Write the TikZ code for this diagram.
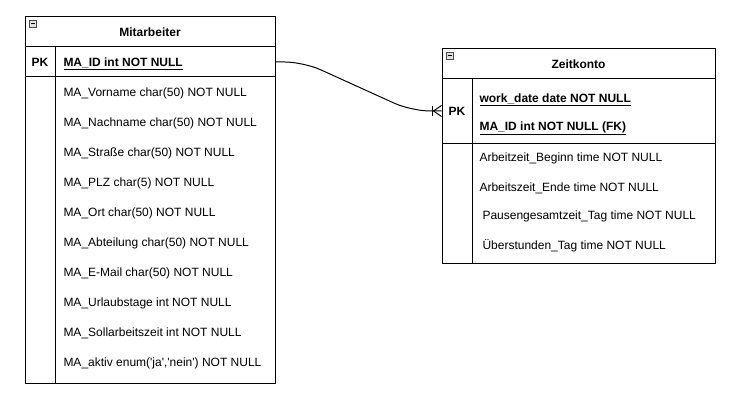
\documentclass[tikz,border=0pt]{standalone}
\usepackage{fontspec}
\setmainfont{Liberation Sans}
\usetikzlibrary{calc}

\tikzset{
  entity/.style={draw, inner sep=0pt},
  field/.style={anchor=west, inner sep=0pt, text height=6.5pt, text depth=0pt,
    font=\fontsize{9}{11}\selectfont},
  keyfield/.style={field, font=\fontsize{9}{11}\selectfont\bfseries},
  title/.style={inner sep=0pt, text height=6.5pt, text depth=0pt,
    font=\fontsize{9}{11}\selectfont\bfseries},
  toggle/.style={draw=gray!60!black, fill=gray!25, line width=0.5pt},
}

\begin{document}
\begin{tikzpicture}[x=0.75pt,y=-0.75pt,line width=0.75pt]
        \useasboundingbox (0,0) rectangle (741,406);
        % table Mitarbeiter
        \node[entity, minimum width=187.5pt, minimum height=274.5pt] (mitarbeiter) at (150,200) {};
        \draw (25,47) -- (275,47);
        \draw (25,77) -- (275,77);
        \draw (55,47) -- (55,383);
        \draw[toggle] (29,20) rectangle (36,27);
        \draw[line width=0.5pt] (30.5,23.5) -- (34.5,23.5);
        \node[title] (mtitle) at (150,32) {Mitarbeiter};
        \node[keyfield, anchor=center] (mpk) at (40,62) {PK};
        \node[keyfield] (mid) at (63,62) {\underline{MA\_ID int NOT NULL}};
        \node[field] (mvorname) at (63,92) {MA\_Vorname char(50) NOT NULL};
        \node[field] (mnachname) at (63,122) {MA\_Nachname char(50) NOT NULL};
        \node[field] (mstrasse) at (63,152) {MA\_Straße char(50) NOT NULL};
        \node[field] (mplz) at (63,182) {MA\_PLZ char(5) NOT NULL};
        \node[field] (mort) at (63,212) {MA\_Ort char(50) NOT NULL};
        \node[field] (mabteilung) at (63,242) {MA\_Abteilung char(50) NOT NULL};
        \node[field] (mmail) at (63,272) {MA\_E-Mail char(50) NOT NULL};
        \node[field] (murlaub) at (63,302) {MA\_Urlaubstage int NOT NULL};
        \node[field] (msoll) at (63,332) {MA\_Sollarbeitszeit int NOT NULL};
        \node[field] (maktiv) at (63,362) {MA\_aktiv enum(\textquotesingle ja\textquotesingle,\textquotesingle nein\textquotesingle) NOT NULL};
        % table Zeitkonto
        \node[entity, minimum width=204.75pt, minimum height=160.5pt] (zeitkonto) at (578.5,156) {};
        \draw (442,79) -- (715,79);
        \draw (442,143) -- (715,143);
        \draw (472,79) -- (472,263);
        \draw[toggle] (446,52) rectangle (453,59);
        \draw[line width=0.5pt] (447.5,55.5) -- (451.5,55.5);
        \node[title] (ztitle) at (578.5,64) {Zeitkonto};
        \node[keyfield, anchor=center] (zpk) at (457,111) {PK};
        \node[keyfield] (zdate) at (479,98) {\underline{work\_date date NOT NULL}};
        \node[keyfield] (zid) at (479,126) {\underline{MA\_ID int NOT NULL (FK)}};
        \node[field] (zbeginn) at (479,157) {Arbeitzeit\_Beginn time NOT NULL};
        \node[field] (zende) at (479,187) {Arbeitszeit\_Ende time NOT NULL};
        \node[field] (zpause) at (482,215) {Pausengesamtzeit\_Tag time NOT NULL};
        \node[field] (zueber) at (482,245) {Überstunden\_Tag time NOT NULL};
        % relation
        \coordinate (mstart) at (mitarbeiter.east |- mpk);
        \coordinate (zend) at (zeitkonto.west |- zpk);
        \draw[rounded corners=14] (mstart) -- ++(28,0) -- ($(zend)+(-30,0)$) -- (zend);
        \draw ($(zend)+(-9,-5)$) -- ++(0,10);
        \draw ($(zend)+(0,-5.5)$) -- ($(zend)+(-8,0)$) -- ($(zend)+(0,5.5)$);
      \end{tikzpicture}
\end{document}
